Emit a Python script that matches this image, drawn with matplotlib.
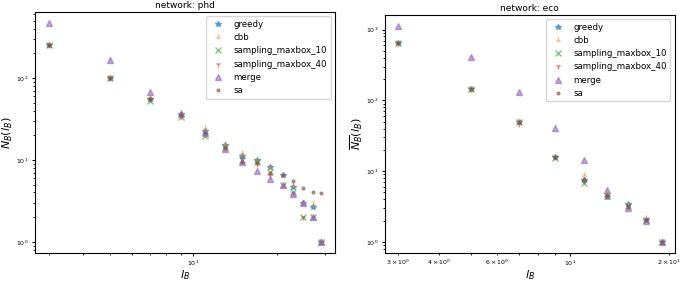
import matplotlib
matplotlib.use("Agg")
import matplotlib.pyplot as plt

# box sizes used for each network
lb_phd = [3, 5, 7, 9, 11, 13, 15, 17, 19, 21, 23, 25, 27, 29]
lb_eco = [3, 5, 7, 9, 11, 13, 15, 17, 19]

# mean number of boxes, network phd
phd_greedy = [250, 100, 56, 36, 22.5, 15.2, 11.3, 10, 8.3, 6.5, 4.7, 3.0, 2.65, 1]
phd_cbb = [250, 100, 58, 38, 24.5, 15.5, 12, 9.8, 7.9, 6.3, 4.9, 3.0, 2.9, 1]
phd_sampling_10 = [250, 100, 53, 33, 19.6, 14.5, 10, 9.4, 7.2, 5.0, 4.0, 2.0, 2.0, 1]
phd_sampling_40 = [250, 100, 55, 34, 21, 14, 10.5, 9.0, 6.6, 5.0, 3.9, 2.0, 2.0, 1]
phd_merge = [470, 166, 67, 36, 21, 13.6, 9.3, 7.4, 5.9, 4.9, 3.8, 3.0, 2.0, 1]
phd_sa = [250, 100, 56, 35, 21, 13.8, 9.5, 9.1, 6.9, 6.5, 5.6, 4.5, 4.05, 3.9]

# mean number of boxes, network eco
eco_greedy = [650, 143, 49, 15.6, 7.6, 4.3, 3.4, 2.05, 1]
eco_cbb = [650, 143, 49, 15.8, 8.7, 4.7, 3.3, 2.15, 1]
eco_sampling_10 = [640, 143, 49, 15.4, 6.8, 4.5, 3.2, 2.05, 1]
eco_sampling_40 = [650, 143, 46, 15.6, 7.2, 4.5, 3.2, 2.1, 1]
eco_merge = [1140, 412, 133, 41, 14.3, 5.4, 3.0, 2.0, 1]
eco_sa = [650, 143, 49, 15.6, 7.8, 4.6, 3.1, 2.05, 1]

methods = ["greedy", "cbb", "sampling_maxbox_10", "sampling_maxbox_40", "merge", "sa"]
markers = ["*", "2", "x", "1", "^", "."]

networks = [
    ("phd", lb_phd, [phd_greedy, phd_cbb, phd_sampling_10, phd_sampling_40, phd_merge, phd_sa]),
    ("eco", lb_eco, [eco_greedy, eco_cbb, eco_sampling_10, eco_sampling_40, eco_merge, eco_sa]),
]

fig = plt.figure(figsize=(6.85, 2.84), dpi=100)
positions = [[0.051, 0.11, 0.438, 0.848], [0.562, 0.11, 0.423, 0.838]]

for (name, lb, series), pos in zip(networks, positions):
    ax = fig.add_axes(pos)
    for method, marker, values in zip(methods, markers, series):
        ms = 4
        if marker == "^":
            ms = 4.5
        ax.plot(lb, values, marker=marker, linestyle="none", ms=ms, alpha=0.6, label=method)
    ax.set_xscale("log")
    ax.set_yscale("log")
    ax.set_title("network: " + name, fontsize=6.5, pad=3)
    ax.set_xlabel("$l_B$", fontsize=8, labelpad=0)
    ax.set_ylabel(r"$\overline{N_B}(l_B)$", fontsize=8, labelpad=1)
    ax.tick_params(which="both", labelsize=4.5, length=2.5, pad=2)
    ax.tick_params(which="minor", length=1.5)
    ax.legend(loc="upper right", fontsize=6.2, labelspacing=0.5, handletextpad=0.8,
              borderpad=0.4)

plt.savefig("out.png", dpi=100)
